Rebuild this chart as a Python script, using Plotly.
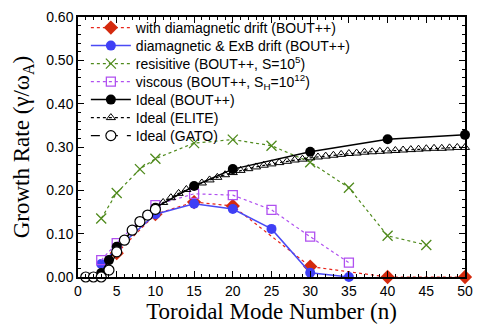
import plotly.graph_objects as go

# ---- data ----
red_n = [5, 10, 15, 20, 30, 40, 50]
red_g = [0.055, 0.145, 0.173, 0.164, 0.024, 0.0, 0.0]

blue_n = [3, 5, 10, 15, 20, 25, 30, 35]
blue_g = [0.03, 0.065, 0.145, 0.169, 0.157, 0.111, 0.010, 0.0]

green_n = [3, 5, 8, 10, 15, 20, 25, 30, 35, 40, 45]
green_g = [0.135, 0.194, 0.249, 0.273, 0.309, 0.317, 0.303, 0.265, 0.206, 0.095, 0.074]

violet_n = [3, 5, 10, 15, 20, 25, 30, 35]
violet_g = [0.039, 0.078, 0.166, 0.192, 0.189, 0.155, 0.093, 0.033]

bout_n = [3, 4, 5, 10, 15, 20, 30, 40, 50]
bout_g = [0.009, 0.039, 0.070, 0.160, 0.210, 0.249, 0.289, 0.318, 0.328]

elite_n = list(range(5, 51))
elite_g = [0.060, 0.085, 0.107, 0.127, 0.145, 0.160, 0.172, 0.183, 0.193, 0.202,
           0.210, 0.217, 0.224, 0.230, 0.236, 0.241, 0.246, 0.250, 0.254, 0.258,
           0.261, 0.264, 0.267, 0.270, 0.272, 0.275, 0.277, 0.279, 0.281, 0.283,
           0.285, 0.286, 0.288, 0.289, 0.290, 0.291, 0.292, 0.293, 0.294, 0.295,
           0.296, 0.297, 0.297, 0.298, 0.299, 0.299]

gato_n = [1, 2, 3, 4, 5, 6, 7, 8, 9, 10]
gato_g = [0.0, 0.0, 0.0, 0.016, 0.058, 0.085, 0.108, 0.128, 0.143, 0.156]

# page has an 8px body margin, so the figure is sized to fit the window
W, H = 480, 319
ML, MR, MT, MB = 70, 23, 9, 50
PH = H - MT - MB
PW = W - ML - MR

fig = go.Figure()

legend_ids = ["legend", "legend2", "legend3", "legend4", "legend5", "legend6", "legend7"]

fig.add_trace(go.Scatter(
    x=red_n, y=red_g, mode="lines+markers",
    name="with diamagnetic drift (BOUT++)", legend=legend_ids[0],
    line=dict(color="#e8241a", width=1.2, dash="dot"),
    marker=dict(symbol="diamond", size=11, color="#d42a0e"),
    cliponaxis=False))
fig.add_trace(go.Scatter(
    x=blue_n, y=blue_g, mode="lines+markers",
    name="diamagnetic & ExB drift (BOUT++)", legend=legend_ids[1],
    line=dict(color="#4a4af5", width=1.5),
    marker=dict(symbol="circle", size=10, color="#3f3ff5"),
    cliponaxis=False))
fig.add_trace(go.Scatter(
    x=green_n, y=green_g, mode="lines+markers",
    name="resisitive (BOUT++, S=10<sup>5</sup>)", legend=legend_ids[2],
    line=dict(color="#4f8a1c", width=1.2, dash="dot"),
    marker=dict(symbol="x-thin-open", size=10, color="#4f8a1c",
                line=dict(width=1.3, color="#4f8a1c")),
    cliponaxis=False))
fig.add_trace(go.Scatter(
    x=violet_n, y=violet_g, mode="lines+markers",
    name="viscous (BOUT++, S<sub>H</sub>=10<sup>12</sup>)", legend=legend_ids[3],
    line=dict(color="#b050f0", width=1.2, dash="dot"),
    marker=dict(symbol="square-open", size=9, color="#b050f0",
                line=dict(width=1.3, color="#b050f0")),
    cliponaxis=False))
fig.add_trace(go.Scatter(
    x=bout_n, y=bout_g, mode="lines+markers",
    name="Ideal (BOUT++)", legend=legend_ids[4],
    line=dict(color="black", width=1.5),
    marker=dict(symbol="circle", size=10, color="black"),
    cliponaxis=False))
fig.add_trace(go.Scatter(
    x=elite_n, y=elite_g, mode="lines+markers",
    name="Ideal (ELITE)", legend=legend_ids[5],
    line=dict(color="black", width=1.2, dash="dot"),
    marker=dict(symbol="triangle-up-open", size=8, color="black",
                line=dict(width=1, color="black")),
    cliponaxis=False))
fig.add_trace(go.Scatter(
    x=gato_n, y=gato_g, mode="lines+markers",
    name="Ideal (GATO)", legend=legend_ids[6],
    line=dict(color="black", width=1.2, dash="dash"),
    marker=dict(symbol="circle", size=10, color="white",
                line=dict(width=1.2, color="black")),
    cliponaxis=False))

axis_common = dict(
    showgrid=False, zeroline=False, showline=True, linecolor="black",
    linewidth=1.5, mirror="ticks", ticks="inside", tickcolor="black",
    automargin=False,
    tickfont=dict(family="Liberation Sans, Arial", size=14, color="black"),
)

fig.update_xaxes(
    range=[0, 50], tickmode="linear", tick0=0, dtick=5, ticklen=6,
    minor=dict(ticks="inside", dtick=1, ticklen=3, tickcolor="black"),
    title=dict(text="Toroidal Mode Number (n)",
               font=dict(family="Liberation Serif, Times New Roman", size=23, color="black"),
               standoff=0),
    **axis_common)
fig.update_yaxes(
    range=[0, 0.6], tickmode="linear", tick0=0, dtick=0.1, tickformat=".2f",
    ticklen=6,
    minor=dict(ticks="inside", dtick=0.02, ticklen=3, tickcolor="black"),
    title=dict(text="Growth Rate (γ/ω<sub>A</sub>)",
               font=dict(family="Liberation Serif, Times New Roman", size=23, color="black"),
               standoff=10),
    **axis_common)

legend_layout = {}
for i, lid in enumerate(legend_ids):
    ypix = 20 + 18 * i
    yp = 1 - (ypix - MT) / PH
    legend_layout[lid] = dict(
        x=0.01 + 4 / PW, y=yp, xanchor="left", yanchor="middle",
        bgcolor="rgba(0,0,0,0)", borderwidth=0,
        font=dict(family="Liberation Sans, Arial", size=14, color="black"),
        itemwidth=40)

fig.update_layout(
    width=W, height=H,
    margin=dict(l=ML, r=MR, t=MT, b=MB, autoexpand=False),
    paper_bgcolor="white", plot_bgcolor="white",
    showlegend=True,
    **legend_layout,
)

fig.write_html("out.html")
